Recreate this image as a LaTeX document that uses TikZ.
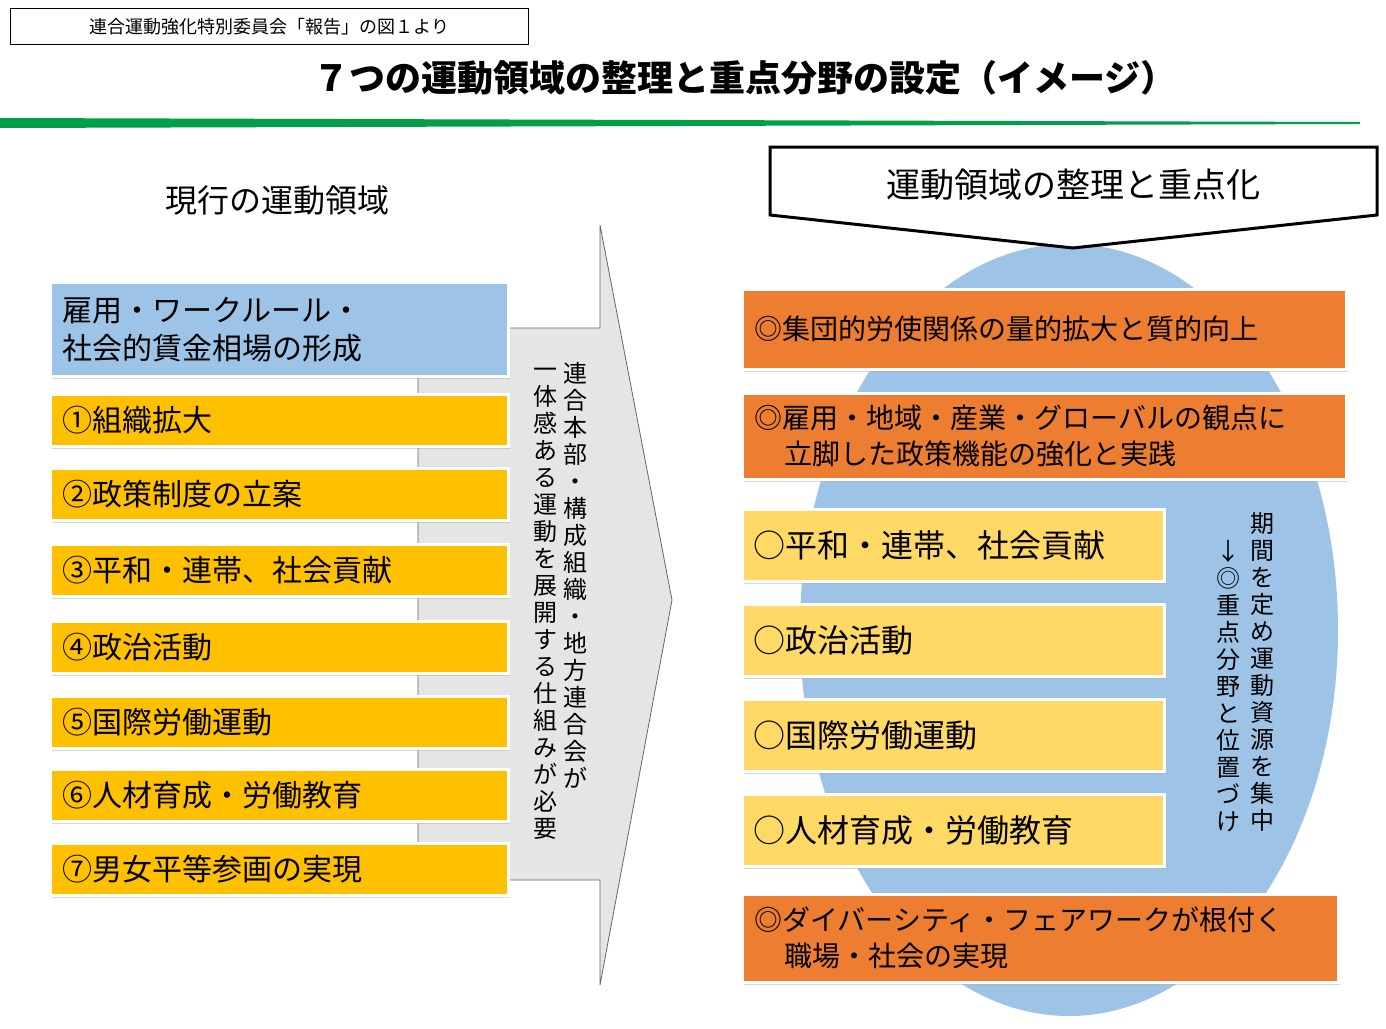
\documentclass[tikz,border=0pt]{standalone}
\usepackage{fontspec}
\setmainfont{Noto Sans CJK JP}
\usetikzlibrary{shadows}
\definecolor{lblue}{HTML}{9DC3E6}
\definecolor{ygold}{HTML}{FFC000}
\definecolor{lyel}{HTML}{FFD966}
\definecolor{orng}{HTML}{ED7D31}
\definecolor{grn}{HTML}{00A04A}
\tikzset{
 bx/.style={draw=white,line width=2.5pt,drop shadow={shadow xshift=2pt,shadow yshift=-3pt,fill=black!30},anchor=north west,align=left,inner xsep=12pt,font=\fontsize{30pt}{38pt}\selectfont},
 vt/.style={align=center,inner sep=0pt,anchor=north,font=\fontsize{24pt}{27pt}\selectfont},
}
\begin{document}
\begin{tikzpicture}[x=1pt,y=-1pt]
\useasboundingbox (0,0) rectangle (1386,1028);
% header
\node[draw,line width=0.8pt,minimum width=518pt,minimum height=36pt,anchor=north west,inner sep=0pt,font=\fontsize{18pt}{20pt}\selectfont] (src) at (10,8) {連合運動強化特別委員会「報告」の図１より};
\node[font=\fontsize{36pt}{40pt}\selectfont\bfseries] (title) at (745,78) {７つの運動領域の整理と重点分野の設定（イメージ）};
\fill[grn] (0,118) -- (1360,122) -- (1360,124) -- (0,128) -- cycle;
\node[font=\fontsize{32pt}{36pt}\selectfont] (ltitle) at (277,200) {現行の運動領域};
% big arrow
\draw[fill=black!10,draw=black!60,line width=0.8pt] (418,328) -- (600,328) -- (600,225) -- (672,600) -- (600,985) -- (600,880) -- (418,880) -- cycle;
\node[vt] (ac1) at (575,362) {連\\合\\本\\部\\・\\構\\成\\組\\織\\・\\地\\方\\連\\合\\会\\が};
\node[vt] (ac2) at (545,368) {一\\体\\感\\あ\\る\\運\\動\\を\\展\\開\\す\\る\\仕\\組\\み\\が\\必\\要};
% left boxes
\node[bx,fill=lblue,minimum width=458pt,minimum height=94pt,text width=434pt] (b0) at (49,281) {雇用・ワークルール・\\社会的賃金相場の形成};
\foreach \y/\t/\n in {393/①組織拡大/b1,467/②政策制度の立案/b2,543/③平和・連帯、社会貢献/b3,620/④政治活動/b4,695/⑤国際労働運動/b5,768/⑥人材育成・労働教育/b6,842/⑦男女平等参画の実現/b7}
 \node[bx,fill=ygold,minimum width=458pt,minimum height=52pt,text width=434pt,inner xsep=12pt] (\n) at (49,\y) {\t};
% right side
\fill[lblue] (1069,630) ellipse[x radius=269pt,y radius=386pt];
\draw[fill=white,line width=3pt] (770,147) -- (1377,147) -- (1377,215) -- (1073,248) -- (770,215) -- cycle;
\node[font=\fontsize{34pt}{38pt}\selectfont] (rtitle) at (1073,185) {運動領域の整理と重点化};
\tikzset{ob/.style={bx,fill=orng,font=\fontsize{28pt}{36pt}\selectfont}}
\node[ob,minimum width=603pt,minimum height=80pt,text width=580pt] (o1) at (741,288) {◎集団的労使関係の量的拡大と質的向上};
\node[ob,minimum width=603pt,minimum height=86pt,text width=580pt] (o2) at (741,392) {◎雇用・地域・産業・グローバルの観点に\\\hspace*{30pt}立脚した政策機能の強化と実践};
\foreach \y/\t/\n in {508/○平和・連帯、社会貢献/y1,603/○政治活動/y2,698/○国際労働運動/y3,793/○人材育成・労働教育/y4}
 \node[bx,fill=lyel,minimum width=422pt,minimum height=72pt,text width=400pt,inner xsep=10pt,font=\fontsize{32pt}{38pt}\selectfont] (\n) at (741,\y) {\t};
\node[ob,minimum width=595pt,minimum height=88pt,text width=572pt] (o3) at (741,893) {◎ダイバーシティ・フェアワークが根付く\\\hspace*{30pt}職場・社会の実現};
\node[vt] (rc1) at (1262,512) {期\\間\\を\\定\\め\\運\\動\\資\\源\\を\\集\\中};
\node[vt] (rc2) at (1228,540) {↓\\◎\\重\\点\\分\\野\\と\\位\\置\\づ\\け};
\end{tikzpicture}
\end{document}
